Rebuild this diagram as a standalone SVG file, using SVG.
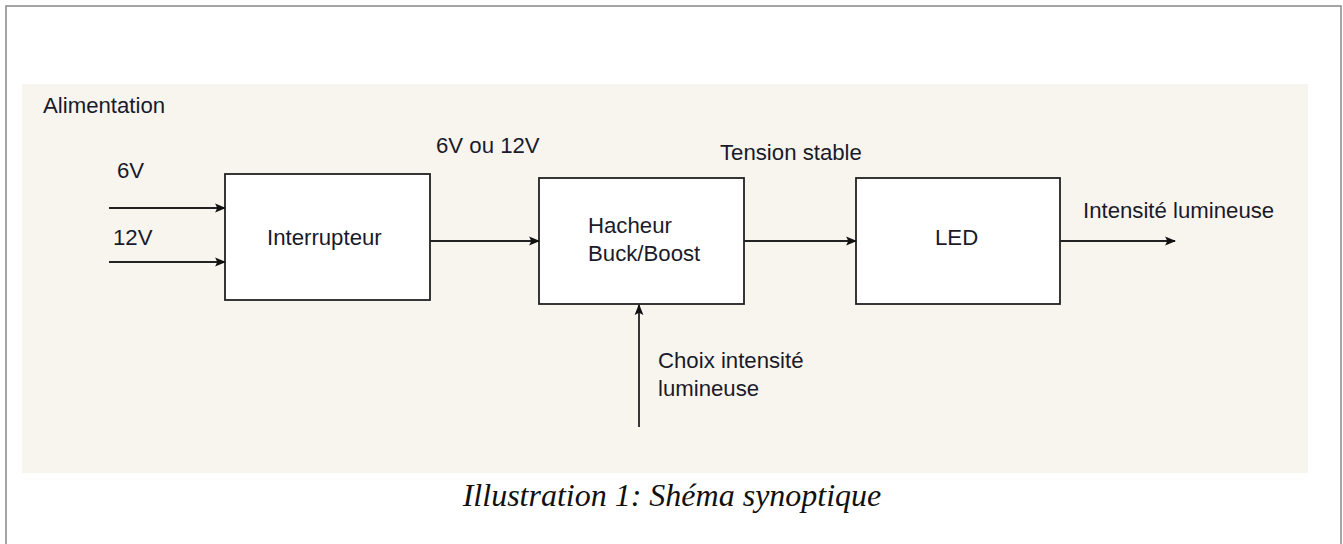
<svg xmlns="http://www.w3.org/2000/svg" width="1343" height="544" viewBox="0 0 1343 544">
<style>
.lbl{font-family:"Liberation Sans",Arial,sans-serif;font-size:22.2px;fill:#1a1a2a}
.box{fill:#ffffff;stroke:#222;stroke-width:1.8}
.wire{stroke:#222;stroke-width:1.8;fill:none;marker-end:url(#ah)}
.cap{font-family:"Liberation Serif","Times New Roman",serif;font-style:italic;font-size:32px;fill:#111}
</style>
<defs>
<marker id="ah" viewBox="0 0 10 10" refX="9" refY="5" markerWidth="11" markerHeight="11" markerUnits="userSpaceOnUse" orient="auto">
<path d="M0,1 L10,5 L0,9 L2,5 Z" fill="#111"/>
</marker>
</defs>
<rect x="0" y="0" width="1343" height="544" fill="#ffffff"/>
<rect x="6" y="6" width="1335" height="545" fill="none" stroke="#888" stroke-width="1.5"/>
<rect x="22" y="84" width="1286" height="389" fill="#f8f5ef"/>
<text class="lbl" x="43" y="113">Alimentation</text>
<g id="interrupteur">
<rect class="box" x="225" y="174" width="205" height="126"/>
<text class="lbl" x="267" y="245">Interrupteur</text>
</g>
<g id="hacheur">
<rect class="box" x="539" y="178" width="205" height="126"/>
<text class="lbl" x="588" y="233">Hacheur</text>
<text class="lbl" x="588" y="261">Buck/Boost</text>
</g>
<g id="led">
<rect class="box" x="856" y="178" width="204" height="126"/>
<text class="lbl" x="935" y="245">LED</text>
</g>
<g id="connectors">
<line class="wire" x1="109" y1="208" x2="225" y2="208"/>
<line class="wire" x1="109" y1="262" x2="225" y2="262"/>
<line class="wire" x1="430" y1="241" x2="539" y2="241"/>
<line class="wire" x1="744" y1="241" x2="856" y2="241"/>
<line class="wire" x1="1060" y1="241" x2="1175" y2="241"/>
<line class="wire" x1="639" y1="427" x2="639" y2="305"/>
</g>
<g id="labels">
<text class="lbl" x="117" y="178">6V</text>
<text class="lbl" x="113" y="245">12V</text>
<text class="lbl" x="436" y="153">6V ou 12V</text>
<text class="lbl" x="720" y="160">Tension stable</text>
<text class="lbl" x="1083" y="218">Intensité lumineuse</text>
<text class="lbl" x="658" y="368">Choix intensité</text>
<text class="lbl" x="658" y="396">lumineuse</text>
</g>
<text class="cap" x="672" y="506" text-anchor="middle">Illustration 1: Shéma synoptique</text>
</svg>
